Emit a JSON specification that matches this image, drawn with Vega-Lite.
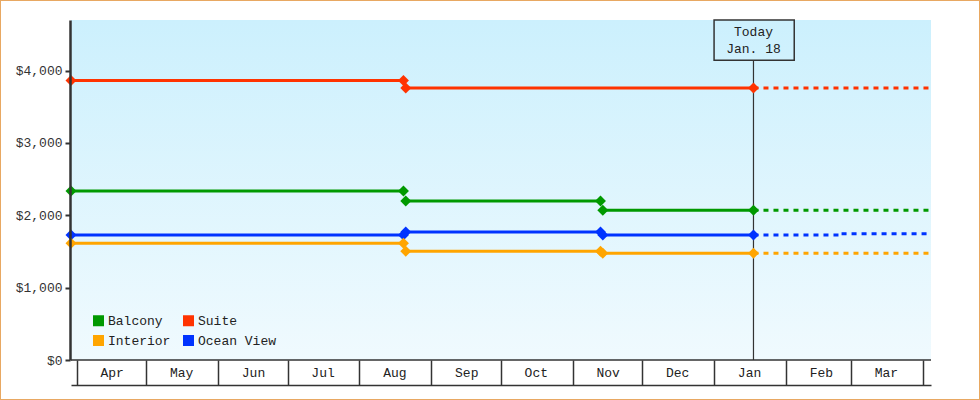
{
  "$schema": "https://vega.github.io/schema/vega-lite/v6.json",
  "width": 980,
  "height": 400,
  "padding": 0,
  "autosize": "none",
  "background": "white",
  "config": {
    "view": {"stroke": "#e8a862", "strokeWidth": 2, "fill": "white"},
    "font": "Liberation Mono"
  },
  "datasets": {
    "actual": [
      {"cabin": "Suite", "date": "2017-03-29T14:00", "price": 3864, "seg": "S1"},
      {"cabin": "Suite", "date": "2017-08-20T00:00", "price": 3864, "seg": "S1"},
      {"cabin": "Suite", "date": "2017-08-21T00:00", "price": 3761, "seg": "S2"},
      {"cabin": "Suite", "date": "2018-01-18T00:00", "price": 3761, "seg": "S2"},
      {"cabin": "Balcony", "date": "2017-03-29T14:00", "price": 2335, "seg": "B1"},
      {"cabin": "Balcony", "date": "2017-08-20T00:00", "price": 2335, "seg": "B1"},
      {"cabin": "Balcony", "date": "2017-08-21T00:00", "price": 2197, "seg": "B2"},
      {"cabin": "Balcony", "date": "2017-11-13T00:00", "price": 2197, "seg": "B2"},
      {"cabin": "Balcony", "date": "2017-11-14T00:00", "price": 2070, "seg": "B3"},
      {"cabin": "Balcony", "date": "2018-01-18T00:00", "price": 2070, "seg": "B3"},
      {"cabin": "Ocean View", "date": "2017-03-29T14:00", "price": 1729, "seg": "O1"},
      {"cabin": "Ocean View", "date": "2017-08-20T00:00", "price": 1729, "seg": "O1"},
      {"cabin": "Ocean View", "date": "2017-08-21T00:00", "price": 1771, "seg": "O2"},
      {"cabin": "Ocean View", "date": "2017-11-13T00:00", "price": 1771, "seg": "O2"},
      {"cabin": "Ocean View", "date": "2017-11-14T00:00", "price": 1729, "seg": "O3"},
      {"cabin": "Ocean View", "date": "2018-01-18T00:00", "price": 1729, "seg": "O3"},
      {"cabin": "Interior", "date": "2017-03-29T14:00", "price": 1615, "seg": "I1"},
      {"cabin": "Interior", "date": "2017-08-20T00:00", "price": 1615, "seg": "I1"},
      {"cabin": "Interior", "date": "2017-08-21T00:00", "price": 1504, "seg": "I2"},
      {"cabin": "Interior", "date": "2017-11-13T00:00", "price": 1504, "seg": "I2"},
      {"cabin": "Interior", "date": "2017-11-14T00:00", "price": 1477, "seg": "I3"},
      {"cabin": "Interior", "date": "2018-01-18T00:00", "price": 1477, "seg": "I3"}
    ],
    "projected": [
      {"cabin": "Suite", "date": "2018-01-18T00:00", "price": 3761, "seg": "PS"},
      {"cabin": "Suite", "date": "2018-04-04T14:00", "price": 3761, "seg": "PS"},
      {"cabin": "Balcony", "date": "2018-01-18T00:00", "price": 2070, "seg": "PB"},
      {"cabin": "Balcony", "date": "2018-04-04T14:00", "price": 2070, "seg": "PB"},
      {"cabin": "Ocean View", "date": "2018-01-18T00:00", "price": 1729, "seg": "PO1"},
      {"cabin": "Ocean View", "date": "2018-02-25T00:00", "price": 1729, "seg": "PO1"},
      {"cabin": "Ocean View", "date": "2018-02-25T00:00", "price": 1745, "seg": "PO2"},
      {"cabin": "Ocean View", "date": "2018-04-04T14:00", "price": 1745, "seg": "PO2"},
      {"cabin": "Interior", "date": "2018-01-18T00:00", "price": 1477, "seg": "PI"},
      {"cabin": "Interior", "date": "2018-04-04T14:00", "price": 1477, "seg": "PI"}
    ],
    "today": [{"label": "Today\nJan. 18"}]
  },
  "layer": [
    {
      "data": {"values": [{}]},
      "mark": {
        "type": "rect",
        "fill": {
          "gradient": "linear", "x1": 0, "y1": 0, "x2": 0, "y2": 1,
          "stops": [{"offset": 0, "color": "#ccf0fd"}, {"offset": 1, "color": "#f0fafe"}]
        }
      },
      "encoding": {
        "x": {"datum": {"year": 2017, "month": 3, "date": 29, "hours": 14}, "type": "temporal",
              "scale": {"domain": [{"year": 2017, "month": 3, "date": 29, "hours": 14}, {"year": 2018, "month": 4, "date": 4, "hours": 14}], "range": [71, 931], "nice": false}},
        "x2": {"datum": {"year": 2018, "month": 4, "date": 4, "hours": 14}},
        "y": {"datum": 0, "type": "quantitative", "scale": {"domain": [0, 4700], "range": [360, 20], "nice": false, "zero": false}},
        "y2": {"datum": 4700}
      }
    },
    {
      "data": {"values": [{}]},
      "mark": {"type": "rule", "stroke": "#333333", "strokeWidth": 1.5},
      "encoding": {
        "x": {"datum": {"year": 2017, "month": 3, "date": 29, "hours": 14}, "type": "temporal"},
        "x2": {"datum": {"year": 2018, "month": 4, "date": 4, "hours": 14}},
        "y": {"datum": 0, "type": "quantitative"}
      }
    },
    {
      "data": {"values": [{}]},
      "mark": {"type": "rule", "stroke": "#333333", "strokeWidth": 1.2},
      "encoding": {
        "x": {"datum": {"year": 2018, "month": 1, "date": 18}, "type": "temporal"},
        "y": {"datum": 0, "type": "quantitative"},
        "y2": {"datum": 4145}
      }
    },
    {
      "data": {"name": "actual"},
      "mark": {"type": "line", "strokeWidth": 3, "strokeCap": "butt"},
      "encoding": {
        "x": {
          "field": "date", "type": "temporal", "title": null,
          "scale": {"domain": [{"year": 2017, "month": 3, "date": 29, "hours": 14}, {"year": 2018, "month": 4, "date": 4, "hours": 14}], "range": [71, 931], "nice": false},
          "axis": {
            "orient": "bottom", "offset": -15, "title": null, "grid": false, "zindex": 1,
            "tickCount": {"interval": "month", "step": 1},
            "tickSize": -25, "tickWidth": 1.5, "tickColor": "#333333",
            "domainColor": "#333333", "domainWidth": 1.5,
            "labelPadding": 6, "labelOffset": 35, "labelFlush": false, "labelOverlap": false,
            "labelFont": "Liberation Mono", "labelFontSize": 13, "labelColor": "#222222",
            "labelExpr": "(month(datum.value) == 3 && year(datum.value) == 2018) ? '' : timeFormat(datum.value, '%b')"
          }
        },
        "y": {
          "field": "price", "type": "quantitative", "title": null,
          "scale": {"domain": [0, 4700], "range": [360, 20], "nice": false, "zero": false},
          "axis": {
            "orient": "left", "offset": -70, "title": null, "grid": false, "zindex": 1,
            "values": [0, 1000, 2000, 3000, 4000], "format": "$,.0f",
            "tickSize": 5, "tickWidth": 2, "tickColor": "#333333",
            "domainColor": "#333333", "domainWidth": 2.5,
            "labelPadding": 3, "labelFont": "Liberation Mono", "labelFontSize": 13, "labelColor": "#333333"
          }
        },
        "color": {
          "field": "cabin", "type": "nominal",
          "scale": {"domain": ["Balcony", "Suite", "Interior", "Ocean View"], "range": ["#009900", "#ff3300", "#ffa500", "#0033ff"]},
          "legend": {
            "orient": "none", "legendX": 92, "legendY": 314, "columns": 2, "direction": "horizontal", "title": null,
            "symbolType": "square", "symbolSize": 121, "symbolStrokeWidth": 0,
            "labelFont": "Liberation Mono", "labelFontSize": 13, "labelColor": "#222222",
            "labelOffset": 3, "columnPadding": 11, "rowPadding": 6,
            "encode": {"symbols": {"update": {"fill": {"scale": "color", "field": "value"}, "stroke": {"value": "transparent"}, "shape": {"value": "square"}}}}
          }
        },
        "detail": {"field": "seg", "type": "nominal"}
      }
    },
    {
      "data": {"name": "projected"},
      "mark": {"type": "line", "strokeWidth": 3, "strokeDash": [5, 5], "strokeCap": "butt"},
      "encoding": {
        "x": {"field": "date", "type": "temporal", "title": null},
        "y": {"field": "price", "type": "quantitative", "title": null},
        "color": {"field": "cabin", "type": "nominal"},
        "detail": {"field": "seg", "type": "nominal"}
      }
    },
    {
      "data": {"name": "actual"},
      "mark": {"type": "point", "shape": "diamond", "filled": true, "size": 120, "opacity": 1},
      "encoding": {
        "x": {"field": "date", "type": "temporal", "title": null},
        "y": {"field": "price", "type": "quantitative", "title": null},
        "color": {"field": "cabin", "type": "nominal"}
      }
    },
    {
      "data": {"values": [{}]},
      "mark": {"type": "rect", "fill": null, "fillOpacity": 0, "stroke": "#333333", "strokeWidth": 1.5},
      "encoding": {
        "x": {"datum": {"year": 2018, "month": 1, "date": 1}, "type": "temporal"},
        "x2": {"datum": {"year": 2018, "month": 2, "date": 4, "hours": 14}},
        "y": {"datum": 4145, "type": "quantitative"},
        "y2": {"datum": 4700}
      }
    },
    {
      "data": {"name": "today"},
      "mark": {"type": "text", "lineBreak": "\n", "baseline": "middle", "align": "center", "lineHeight": 17, "font": "Liberation Mono", "fontSize": 13, "color": "#222222"},
      "encoding": {
        "x": {"datum": {"year": 2018, "month": 1, "date": 18}, "type": "temporal"},
        "y": {"datum": 4534, "type": "quantitative"},
        "text": {"field": "label", "type": "nominal"}
      }
    }
  ]
}
